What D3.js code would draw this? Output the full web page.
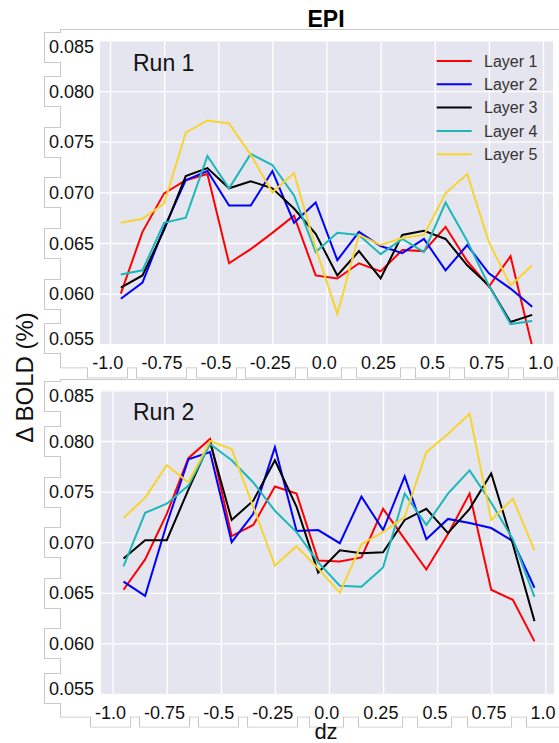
<!DOCTYPE html>
<html>
<head>
<meta charset="utf-8">
<script src="https://cdn.jsdelivr.net/npm/d3@7"></script>
<style>
  body { margin: 0; background: #fff; }
  svg { display: block; font-family: "Liberation Sans", Arial, sans-serif; }
</style>
</head>
<body>
<svg id="chart" width="559" height="743"></svg>
<script>
// data
var dz = [-0.95, -0.85, -0.75, -0.65, -0.55, -0.45, -0.35, -0.25, -0.15, -0.05,
          0.05, 0.15, 0.25, 0.35, 0.45, 0.55, 0.65, 0.75, 0.85, 0.95];
var layerNames = ['Layer 1', 'Layer 2', 'Layer 3', 'Layer 4', 'Layer 5'];
var xTicks = [-1, -0.75, -0.5, -0.25, 0, 0.25, 0.5, 0.75, 1];
var xTickLabels = ['-1.0', '-0.75', '-0.5', '-0.25', '0.0', '0.25', '0.5', '0.75', '1.0'];
var yTicks = [0.055, 0.060, 0.065, 0.070, 0.075, 0.080, 0.085];
var yTickLabels = ['0.055', '0.060', '0.065', '0.070', '0.075', '0.080', '0.085'];

var run1Layer1 = [0.0600, 0.0661, 0.0699, 0.0712, 0.0718, 0.0630, 0.0644, 0.0660, 0.0677, 0.0618,
                  0.0615, 0.0630, 0.0622, 0.0643, 0.0642, 0.0666, 0.0632, 0.0607, 0.0637, 0.0548];
var run1Layer2 = [0.0595, 0.0611, 0.0665, 0.0712, 0.0721, 0.0687, 0.0687, 0.0721, 0.0670, 0.0690,
                  0.0633, 0.0661, 0.0647, 0.0640, 0.0654, 0.0623, 0.0648, 0.0620, 0.0605, 0.0587];
var run1Layer3 = [0.0606, 0.0618, 0.0663, 0.0716, 0.0724, 0.0704, 0.0711, 0.0704, 0.0684, 0.0659,
                  0.0618, 0.0642, 0.0615, 0.0658, 0.0662, 0.0654, 0.0628, 0.0608, 0.0572, 0.0579];
var run1Layer4 = [0.0619, 0.0623, 0.0670, 0.0675, 0.0736, 0.0704, 0.0738, 0.0727, 0.0697, 0.0641,
                  0.0660, 0.0658, 0.0639, 0.0654, 0.0641, 0.0690, 0.0652, 0.0608, 0.0570, 0.0573];
var run1Layer5 = [0.0670, 0.0674, 0.0689, 0.0759, 0.0771, 0.0768, 0.0737, 0.0700, 0.0719, 0.0645,
                  0.0580, 0.0658, 0.0648, 0.0655, 0.0658, 0.0699, 0.0718, 0.0651, 0.0608, 0.0628];

var run2Layer1 = [0.0653, 0.0683, 0.0728, 0.0783, 0.0802, 0.0706, 0.0717, 0.0755, 0.0748, 0.0682,
                  0.0681, 0.0685, 0.0733, 0.0703, 0.0673, 0.0708, 0.0748, 0.0653, 0.0643, 0.0602];
var run2Layer2 = [0.0661, 0.0647, 0.0718, 0.0782, 0.0789, 0.0700, 0.0728, 0.0794, 0.0711, 0.0712,
                  0.0699, 0.0745, 0.0712, 0.0765, 0.0703, 0.0723, 0.0719, 0.0714, 0.0701, 0.0655];
var run2Layer3 = [0.0684, 0.0702, 0.0702, 0.0752, 0.0799, 0.0722, 0.0741, 0.0781, 0.0735, 0.0670,
                  0.0692, 0.0689, 0.0690, 0.0722, 0.0733, 0.0709, 0.0733, 0.0768, 0.0698, 0.0622];
var run2Layer4 = [0.0676, 0.0729, 0.0738, 0.0756, 0.0797, 0.0781, 0.0759, 0.0731, 0.0710, 0.0680,
                  0.0657, 0.0656, 0.0675, 0.0748, 0.0717, 0.0748, 0.0771, 0.0739, 0.0703, 0.0646];
var run2Layer5 = [0.0724, 0.0744, 0.0776, 0.0759, 0.0800, 0.0792, 0.0735, 0.0677, 0.0696, 0.0674,
                  0.0650, 0.0698, 0.0710, 0.0725, 0.0789, 0.0807, 0.0827, 0.0722, 0.0743, 0.0692];

var layerColors = ['#ff0000', '#0000ff', '#000000', '#1cb8b8', '#f8d431'];

var svg = d3.select('#chart');
var frameLayer = svg.append('g');   // faint label boxes drawn behind everything
var frameRects = [];

var panels = [
  { name: 'Run 1', series: [run1Layer1, run1Layer2, run1Layer3, run1Layer4, run1Layer5],
    left: 100, right: 553, top: 41, bottom: 344, x0: 110, x1: 543, y0: 344.3, y1: 40.4,
    regionTop: 29.5, xLabelBase: 369.3, legend: true },
  { name: 'Run 2', series: [run2Layer1, run2Layer2, run2Layer3, run2Layer4, run2Layer5],
    left: 101, right: 554, top: 390, bottom: 694, x0: 112.7, x1: 545.3, y0: 694, y1: 390.4,
    regionTop: 379.5, xLabelBase: 718.5, legend: false }
];

panels.forEach(function(p, pi) {
  var x = d3.scaleLinear().domain([-1, 1]).range([p.x0, p.x1]);
  var y = d3.scaleLinear().domain([0.055, 0.085]).range([p.y0, p.y1]);
  var g = svg.append('g');

  g.append('rect')
    .attr('x', p.left).attr('y', p.top)
    .attr('width', p.right - p.left).attr('height', p.bottom - p.top)
    .attr('fill', '#e5e5ef');

  // grid
  var gx = g.append('g')
    .attr('transform', 'translate(0,' + p.bottom + ')')
    .call(d3.axisBottom(x).tickValues(xTicks).tickSize(-(p.bottom - p.top)).tickFormat(''));
  var gy = g.append('g')
    .attr('transform', 'translate(' + p.left + ',0)')
    .call(d3.axisLeft(y).tickValues(yTicks).tickSize(-(p.right - p.left)).tickFormat(''));
  [gx, gy].forEach(function(a) {
    a.select('.domain').remove();
    a.selectAll('line').attr('stroke', '#fff').attr('stroke-width', 1.3);
  });

  // tick labels
  var lx = g.append('g')
    .attr('transform', 'translate(0,' + (p.xLabelBase - 14) + ')')
    .call(d3.axisBottom(x).tickValues(xTicks).tickSize(0).tickPadding(0)
      .tickFormat(function(d, i) { return xTickLabels[i]; }));
  lx.select('.domain').remove();
  lx.selectAll('text')
    .attr('dy', null).attr('y', 14).attr('x', -2.7)
    .attr('font-size', 18).attr('font-family', '"Liberation Sans", Arial, sans-serif')
    .attr('fill', '#111');

  var ly = g.append('g')
    .attr('transform', 'translate(94,0)')
    .call(d3.axisLeft(y).tickValues(yTicks).tickSize(0).tickPadding(0)
      .tickFormat(function(d, i) { return yTickLabels[i]; }));
  ly.select('.domain').remove();
  ly.selectAll('.tick').attr('transform', function(d) {
    var c = Math.max(p.top + 5.6, Math.min(p.bottom - 5.6, y(d)));
    return 'translate(0,' + c + ')';
  });
  ly.selectAll('text')
    .attr('dy', null).attr('y', 6.6).attr('x', 0)
    .attr('font-size', 18).attr('font-family', '"Liberation Sans", Arial, sans-serif')
    .attr('fill', '#111');

  // lines
  var clipId = 'clip' + pi;
  svg.append('clipPath').attr('id', clipId).append('rect')
    .attr('x', p.left).attr('y', p.top)
    .attr('width', p.right - p.left).attr('height', p.bottom - p.top);
  var line = d3.line()
    .x(function(d, i) { return x(dz[i]); })
    .y(function(d) { return y(d); });
  g.append('g').attr('clip-path', 'url(#' + clipId + ')')
    .selectAll('path').data(p.series).enter().append('path')
    .attr('d', line)
    .attr('fill', 'none')
    .attr('stroke', function(d, i) { return layerColors[i]; })
    .attr('stroke-width', 2)
    .attr('stroke-linejoin', 'miter');

  g.append('text')
    .attr('x', 133).attr('y', p.top + 29.5)
    .attr('font-size', 23).attr('fill', '#111')
    .text(p.name);

  if (p.legend) {
    var leg = g.selectAll('.legendEntry').data(layerNames).enter().append('g')
      .classed('legendEntry', true)
      .attr('transform', function(d, i) { return 'translate(0,' + (61 + i * 23.3) + ')'; });
    leg.append('line')
      .attr('x1', 436.7).attr('x2', 471.7)
      .attr('stroke', function(d, i) { return layerColors[i]; })
      .attr('stroke-width', 2);
    leg.append('text')
      .attr('x', 484).attr('y', 5.6)
      .attr('font-size', 16).attr('fill', '#333')
      .text(function(d) { return d; });
  }

  // collect the faint boxes round the tick labels
  frameRects.push([60.5, p.regionTop, 560, p.xLabelBase - 1.5 - p.regionTop]);
  ly.selectAll('.tick').each(function() {
    var t = d3.select(this).attr('transform');
    var c = +t.split(',')[1].replace(')', '');
    var top = Math.max(p.regionTop, c - 15);
    frameRects.push([44.5, Math.round(top) + 0.5, 30, c + 15 - top]);
  });
  lx.selectAll('text').each(function() {
    var b = this.getBBox();
    var tx = +d3.select(this.parentNode).attr('transform').split('(')[1].split(',')[0];
    frameRects.push([Math.round(tx + b.x - 5) + 0.5, p.xLabelBase - 10, b.width + 9, 18.5]);
  });
});

// outline of the union of label boxes
frameLayer.selectAll('.fs').data(frameRects).enter().append('rect')
  .attr('x', function(d) { return d[0]; }).attr('y', function(d) { return d[1]; })
  .attr('width', function(d) { return d[2]; }).attr('height', function(d) { return d[3]; })
  .attr('fill', 'none').attr('stroke', '#c8c8c8').attr('stroke-width', 1);
frameLayer.selectAll('.ff').data(frameRects).enter().append('rect')
  .attr('x', function(d) { return d[0] + 0.6; }).attr('y', function(d) { return d[1] + 0.6; })
  .attr('width', function(d) { return d[2] - 1.2; }).attr('height', function(d) { return d[3] - 1.2; })
  .attr('fill', '#fff');

svg.append('text')
  .attr('x', 326).attr('y', 26.5)
  .attr('text-anchor', 'middle')
  .attr('font-size', 23).attr('font-weight', 'bold').attr('fill', '#000')
  .text('EPI');

svg.append('text')
  .attr('transform', 'translate(33,377.5) rotate(-90)')
  .attr('text-anchor', 'middle')
  .attr('font-size', 24).attr('fill', '#111')
  .text('Δ BOLD (%)');

svg.append('text')
  .attr('x', 326).attr('y', 739)
  .attr('text-anchor', 'middle')
  .attr('font-size', 22).attr('fill', '#111')
  .text('dz');
</script>
</body>
</html>
